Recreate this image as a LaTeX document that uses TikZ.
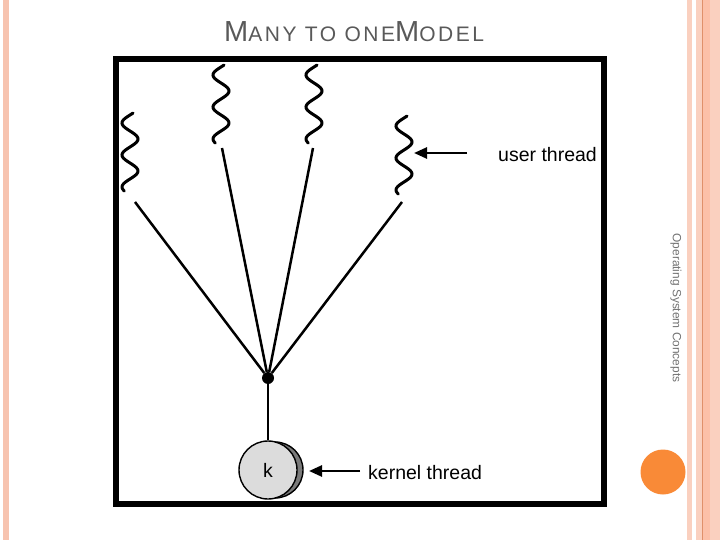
\documentclass[tikz,border=0pt]{standalone}
\usepackage{fontspec}
\setmainfont{Liberation Sans}
\newfontfamily\titlefont[LetterSpace=12]{Liberation Sans}
\usetikzlibrary{arrows.meta}
\definecolor{salmon}{HTML}{F7C3AF}
\definecolor{paleband}{HTML}{FAD0BF}
\definecolor{deepband}{HTML}{FCC0A8}
\definecolor{rim}{HTML}{E0906A}
\definecolor{dot}{HTML}{F98A37}
\definecolor{titlegray}{HTML}{595959}
\definecolor{kfill}{HTML}{DCDCDC}
\definecolor{kshade}{HTML}{7A7A7A}
\tikzset{frame/.style={draw=black,line width=6pt},
wave/.style={draw=black,line width=3pt,line cap=round},
link/.style={draw=black,line width=2.5pt},
pointer/.style={draw=black,line width=2.6pt,-{Triangle[length=13pt,width=11pt]}},
lbl/.style={font=\fontsize{19.5}{22}\selectfont,inner sep=0pt},
hub/.style={circle,fill=black,minimum size=12pt,inner sep=0pt},
kthread/.style={circle,draw=black,line width=1.4pt,fill=kfill,minimum size=58pt,inner sep=0pt,font=\fontsize{19.5}{22}\selectfont},
kshadow/.style={circle,draw=black,line width=1.4pt,fill=kshade,minimum size=56pt,inner sep=0pt}}

\begin{document}
\begin{tikzpicture}[x=1pt,y=-1pt]
\useasboundingbox (0,0) rectangle (720,540);
% slide decoration
\fill[salmon] (3,0) rectangle (9,540);
\fill[paleband] (687,0) rectangle (692,540);
\fill[paleband] (696,0) rectangle (720,540);
\fill[deepband] (703,0) rectangle (710,540);
\draw[rim,line width=1.4pt] (702.5,0) -- (702.5,540);
\node[circle,fill=dot,minimum size=45pt,inner sep=0pt] (ball) at (663,472) {};
\node[rotate=-90,font=\fontsize{11.9}{13}\selectfont,text=titlegray!85,inner sep=0pt] (foot) at (676,308) {Operating System Concepts};
\node[anchor=base west,inner sep=0pt,text=titlegray] (title) at (224,42)
  {\titlefont\fontsize{29}{30}\selectfont M\fontsize{21}{22}\selectfont ANY TO ONE\fontsize{29}{30}\selectfont M\fontsize{21}{22}\selectfont ODEL};
% figure
\draw[frame] (116,59) rectangle (604,504);
\foreach \cx/\ct in {130/113,221/65,314/65,404/116}
  \draw[wave] plot[variable=\s,domain=0:78,samples=70,smooth] ({\cx-8*cos(11.25*(\s-10))},{\ct+\s});
\coordinate (t1) at (135,202);
\coordinate (t2) at (222,148);
\coordinate (t3) at (313,148);
\coordinate (t4) at (402,202);
\node[hub] (j) at (268,378) {};
\foreach \t in {t1,t2,t3,t4}\draw[link] (\t)--(j);
\node[kshadow] (ks) at (275,470) {};
\node[kthread] (k) at (268,470) {k};
\draw[link] (j)--(k);
\node[lbl,anchor=west] (ut) at (498,155) {user thread};
\node[lbl,anchor=west] (kt) at (368,473) {kernel thread};
\coordinate (ua) at (467,153); \coordinate (uw) at (414,153);
\coordinate (ka) at (360,471); \coordinate (kw) at (309,471);
\draw[pointer] (ua)--(uw);
\draw[pointer] (ka)--(kw);
\end{tikzpicture}
\end{document}
